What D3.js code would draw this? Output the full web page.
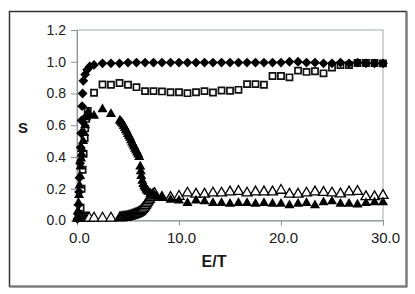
<!DOCTYPE html>
<html>
<head>
<meta charset="utf-8">
<script src="https://cdn.jsdelivr.net/npm/d3@7"></script>
<style>
  body { margin: 0; background: #fff; }
  text { font-family: "Liberation Sans", Arial, sans-serif; fill: #1a1a1a; }
</style>
</head>
<body>
<div id="chart"></div>
<script>
// E/T vs S, four series as [E/T, S]
const diamonds = [
  [0.05,0.01],[0.1,0.04],[0.15,0.1],[0.2,0.18],[0.25,0.27],[0.3,0.36],[0.35,0.46],[0.4,0.55],[0.45,0.63],
  [0.5,0.72],[0.55,0.8],[0.62,0.88],[0.8,0.92],[1.0,0.95],[1.25,0.97],[1.67,0.98],[2.5,0.99],
  [3.33,0.99],[4.17,0.99],[5,0.995],[5.83,0.995],[6.67,0.995],[7.5,0.995],[8.33,0.995],[9.17,0.995],
  [10,0.995],[10.83,0.995],[11.67,0.995],[12.5,0.995],[13.33,0.995],[14.17,0.995],[15,0.995],
  [15.83,0.995],[16.67,0.995],[17.5,0.995],[18.33,0.995],[19.17,0.995],[20,0.995],[20.83,1.0],
  [21.67,1.0],[22.5,0.995],[23.33,0.995],[24.17,0.99],[25,0.99],[25.83,0.995],[26.67,0.99],
  [27.5,0.995],[28.33,0.99],[29.17,0.99],[30,0.99]
];

const squares = [
  [0.35,0.08],[0.45,0.2],[0.55,0.32],[0.65,0.42],[0.75,0.52],[0.8,0.58],[0.9,0.64],[1.05,0.69],
  [1.67,0.805],[2.5,0.857],[3.33,0.855],[4.17,0.866],[5,0.855],[5.83,0.84],[6.67,0.815],[7.5,0.815],
  [8.33,0.813],[9.17,0.808],[10,0.808],[10.83,0.802],[11.67,0.808],[12.5,0.815],[13.33,0.806],
  [14.17,0.819],[15,0.817],[15.83,0.823],[16.67,0.859],[17.5,0.859],[18.33,0.855],[19.17,0.91],
  [20,0.91],[20.83,0.902],[21.67,0.944],[22.5,0.936],[23.33,0.94],[24.17,0.927],[25,0.963],
  [25.83,0.979],[26.67,0.979],[27.5,0.992],[28.33,0.992],[29.17,0.992],[30,0.99]
];

const filledTri = [
  [0.05,0.02],[0.1,0.06],[0.15,0.11],[0.2,0.16],[0.25,0.22],[0.3,0.28],[0.35,0.34],[0.4,0.39],
  [0.45,0.42],[0.5,0.45],[0.6,0.5],[0.7,0.55],[0.8,0.6],[0.9,0.65],[1.0,0.67],[1.1,0.68],[1.67,0.66],
  [2.5,0.70],[3.33,0.67],
  [4.2,0.63],[4.3,0.622],[4.4,0.615],[4.5,0.605],[4.6,0.595],[4.7,0.582],[4.8,0.57],[4.9,0.558],
  [5.0,0.545],[5.1,0.532],[5.2,0.52],[5.3,0.505],[5.4,0.49],[5.5,0.478],[5.6,0.465],[5.7,0.452],
  [5.8,0.44],[5.9,0.428],[6.0,0.415],[6.1,0.40],[6.2,0.34],[6.25,0.31],[6.3,0.28],[6.4,0.25],[6.5,0.23],
  [6.6,0.215],[6.7,0.205],[6.8,0.195],[6.9,0.187],[7.0,0.18],[7.2,0.17],[7.4,0.163],[7.6,0.158],
  [7.8,0.153],[8.33,0.145],
  [9.17,0.13],[10,0.125],[10.83,0.11],[11.67,0.125],[12.5,0.12],[13.33,0.11],[14.17,0.11],[15,0.105],
  [15.83,0.11],[16.67,0.11],[17.5,0.105],[18.33,0.11],[19.17,0.105],[20,0.105],[20.83,0.095],
  [21.67,0.105],[22.5,0.11],[23.33,0.095],[24.17,0.115],[25,0.12],[25.83,0.105],[26.67,0.105],
  [27.5,0.10],[28.33,0.11],[29.17,0.115],[30,0.115]
];

const openTri = [
  [0.1,0.015],[0.2,0.015],[0.3,0.015],[0.4,0.015],[0.5,0.015],[0.6,0.015],[0.7,0.015],[0.8,0.015],
  [0.9,0.015],[1.0,0.015],[1.1,0.015],[1.2,0.015],[1.67,0.015],[2.5,0.015],[3.33,0.015],
  [4.2,0.017],[4.3,0.017],[4.4,0.018],[4.5,0.019],[4.6,0.02],[4.7,0.021],[4.8,0.022],[4.9,0.023],
  [5.0,0.025],[5.1,0.026],[5.2,0.028],[5.3,0.03],[5.4,0.032],[5.5,0.034],[5.6,0.037],[5.7,0.04],
  [5.8,0.042],[5.9,0.045],[6.0,0.048],[6.1,0.052],[6.2,0.055],[6.3,0.062],[6.4,0.07],[6.5,0.078],
  [6.6,0.085],[6.7,0.095],[6.8,0.105],[6.9,0.115],[7.0,0.125],[7.1,0.135],[7.2,0.145],[7.3,0.153],
  [7.4,0.16],[7.5,0.165],[7.6,0.17],
  [8.33,0.145],[9.17,0.145],[10,0.152],[10.83,0.173],[11.67,0.166],[12.5,0.166],[13.33,0.173],
  [14.17,0.173],[15,0.18],[15.83,0.183],[16.67,0.173],[17.5,0.18],[18.33,0.18],[19.17,0.18],[20,0.19],
  [20.83,0.166],[21.67,0.166],[22.5,0.173],[23.33,0.18],[24.17,0.177],[25,0.173],[25.83,0.167],
  [26.67,0.18],[27.5,0.183],[28.33,0.15],[29.17,0.15],[30,0.158]
];

const xTicks = [0, 10, 20, 30];
const yTicks = [0, 0.2, 0.4, 0.6, 0.8, 1.0, 1.2];

const W = 415, H = 294;
const svg = d3.select("#chart").append("svg")
  .attr("width", W)
  .attr("height", H);

// outer frame
svg.append("rect")
  .attr("x", 9.5).attr("y", 11.5)
  .attr("width", 397).attr("height", 275)
  .attr("fill", "#fff")
  .attr("stroke", "#333")
  .attr("stroke-width", 1.5);
svg.append("path")
  .attr("d", "M406.5,11.5 V286.5 H9.5")
  .attr("fill", "none")
  .attr("stroke", "#777")
  .attr("stroke-width", 2);

const x = d3.scaleLinear().domain([0, 30]).range([77, 383]);
const y = d3.scaleLinear().domain([0, 1.2]).range([220.5, 30]);

// plot area border
svg.append("rect")
  .attr("x", x(0)).attr("y", y(1.2))
  .attr("width", x(30) - x(0)).attr("height", y(0) - y(1.2))
  .attr("fill", "none")
  .attr("stroke", "#a3abab")
  .attr("stroke-width", 1);

const xAxis = svg.append("g")
  .attr("transform", `translate(0,${y(0)})`)
  .call(d3.axisBottom(x).tickValues(xTicks).tickFormat(d3.format(".1f")).tickSize(5).tickSizeOuter(0).tickPadding(7));
const yAxis = svg.append("g")
  .attr("transform", `translate(${x(0)},0)`)
  .call(d3.axisLeft(y).tickValues(yTicks).tickFormat(d3.format(".1f")).tickSize(6).tickSizeOuter(0).tickPadding(5));

[xAxis, yAxis].forEach(g => {
  g.select(".domain").attr("stroke", "#8a9292");
  g.selectAll(".tick line").attr("stroke", "#8a9292");
  g.selectAll("text").attr("font-size", "14px").attr("fill", "#1a1a1a")
    .attr("font-family", "'Liberation Sans', Arial, sans-serif");
});
xAxis.selectAll("text").attr("font-size", "15px").attr("dx", "2");

// axis titles
svg.append("text")
  .attr("x", 23).attr("y", 127)
  .attr("text-anchor", "middle")
  .attr("dominant-baseline", "central")
  .attr("font-size", "15px")
  .attr("font-weight", "bold")
  .text("S");
svg.append("text")
  .attr("x", 214).attr("y", 261)
  .attr("text-anchor", "middle")
  .attr("dominant-baseline", "central")
  .attr("font-size", "16px")
  .attr("font-weight", "bold")
  .text("E/T");

// markers (squares under diamonds, open triangles under filled ones)
const dia = d3.symbol(d3.symbolSquare, 48);
const tri = d3.symbol(d3.symbolTriangle, 44);

svg.append("g").selectAll("path")
  .data(squares).join("path")
  .attr("d", d3.symbol(d3.symbolSquare, 38))
  .attr("transform", d => `translate(${x(d[0])},${y(d[1])})`)
  .attr("fill", "#fff")
  .attr("stroke", "#111")
  .attr("stroke-width", 1.7);

svg.append("g").selectAll("path")
  .data(diamonds).join("path")
  .attr("d", dia)
  .attr("transform", d => `translate(${x(d[0])},${y(d[1])}) rotate(45)`)
  .attr("fill", "#000");

svg.append("g").selectAll("path")
  .data(openTri).join("path")
  .attr("d", tri)
  .attr("transform", d => `translate(${x(d[0])},${y(d[1])})`)
  .attr("fill", "#fff")
  .attr("stroke", "#000")
  .attr("stroke-width", 1.3);

svg.append("g").selectAll("path")
  .data(filledTri).join("path")
  .attr("d", tri)
  .attr("transform", d => `translate(${x(d[0])},${y(d[1])})`)
  .attr("fill", "#000");
</script>
</body>
</html>
